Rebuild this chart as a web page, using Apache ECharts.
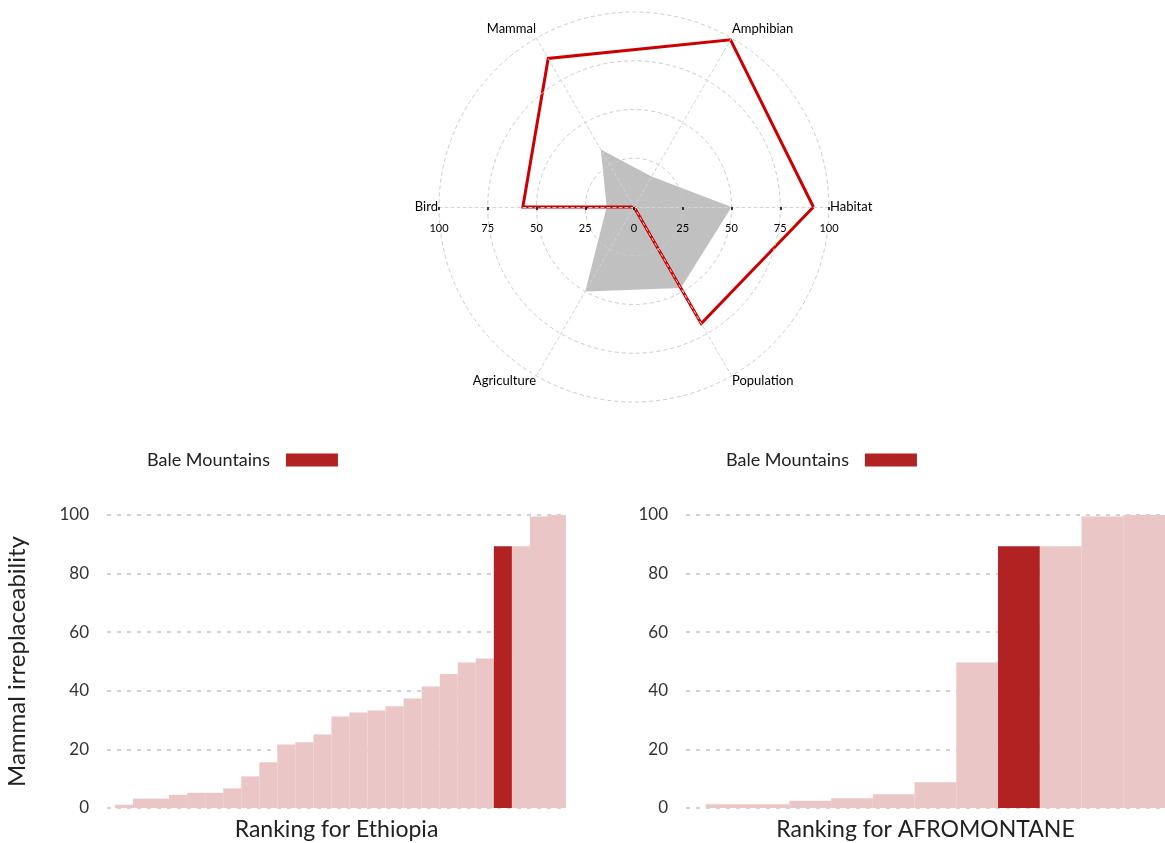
<!DOCTYPE html>
<html>
<head>
<meta charset="utf-8">
<script src="https://cdn.jsdelivr.net/npm/echarts@6/dist/echarts.min.js"></script>
<style>
html,body{margin:0;padding:0;background:#fff;}
#chart{width:1165px;height:843px;}
</style>
</head>
<body>
<div id="chart"></div>
<script>
// ---------- data ----------
const radarIndicators = ['Habitat', 'Amphibian', 'Mammal', 'Bird', 'Agriculture', 'Population'];
const radarMax = 100;
const baleProfile = [92, 99, 88, 57, 0, 69];
const averageProfile = [50, 18, 34, 14, 50, 48];
const radarTickLabels = ['100', '75', '50', '25', '0', '25', '50', '75', '100'];

const legendName = 'Bale Mountains';
const yAxisName = 'Mammal irreplaceability';
const ethiopiaTitle = 'Ranking for Ethiopia';
const ethiopiaValues = [1.1, 3.2, 3.2, 4.5, 5.2, 5.2, 6.7, 10.8, 15.6, 21.7, 22.4, 25.1, 31.2, 32.6, 33.3, 34.7, 37.4, 41.5, 45.7, 49.7, 51.0, 89.3, 89.3, 99.5, 100];
const ethiopiaBaleIndex = 21;
const afroTitle = 'Ranking for AFROMONTANE';
const afroValues = [1.25, 1.25, 2.5, 3.3, 4.7, 8.75, 49.7, 89.3, 89.3, 99.5, 100];
const afroBaleIndex = 7;
const yMin = 0, yMax = 100, yStep = 20;

// ---------- styles ----------
const FONT = 'Lato, "DejaVu Sans", sans-serif';
const RED = '#cc0000';
const BAR_RED = '#b22222';
const PINK = '#eac6c6';
const GREY = '#c0c0c0';
const gridDash = { color: '#c4c4c4', type: [4, 6], width: 1.5 };

function others(values, idx) {
  return values.map((v, i) => [i, v]).filter(d => d[0] !== idx);
}
function bale(values, idx) {
  return [[idx, values[idx]]];
}
function radarNameFormatter(name) {
  const idx = radarIndicators.indexOf(name);
  const s = Math.sin(idx * 2 * Math.PI / radarIndicators.length);
  if (s > 0.1) return '{up|' + name + '}';
  if (s < -0.1) return '{down|' + name + '}';
  return name;
}

const chart = echarts.init(document.getElementById('chart'), null, { renderer: 'canvas' });

const legendBase = {
  data: [legendName], top: 451, align: 'right', padding: 0,
  icon: 'rect', itemWidth: 52, itemHeight: 13,
  selectedMode: false,
  textStyle: { fontSize: 18, color: '#222', fontFamily: FONT, padding: [0, 11, 0, 0] }
};

const option = {
  backgroundColor: '#fff',
  animation: false,
  textStyle: { fontFamily: FONT },
  radar: {
    z: 3,
    center: [634, 207],
    radius: 195,
    startAngle: 0,
    shape: 'circle',
    splitNumber: 4,
    indicator: radarIndicators.map(n => ({ name: n, min: 0, max: radarMax })),
    axisName: {
      color: '#000', fontSize: 13, fontFamily: FONT,
      formatter: radarNameFormatter,
      rich: {
        up: { color: '#000', fontSize: 13, fontFamily: FONT, padding: [0, 0, 17, 0] },
        down: { color: '#000', fontSize: 13, fontFamily: FONT, padding: [9, 0, 0, 0] }
      }
    },
    nameGap: 1,
    axisLine: { lineStyle: { color: '#d4d4d4', type: [3, 3], width: 1 } },
    splitLine: { lineStyle: { color: '#cccccc', type: [4, 3], width: 1 } },
    splitArea: { show: false },
    axisTick: { show: false },
    axisLabel: { show: false }
  },
  legend: [
    Object.assign({}, legendBase, { left: 147 }),
    Object.assign({}, legendBase, { left: 726 })
  ],
  grid: [
    { left: 439, width: 390, top: 206, height: 1, containLabel: false },
    { left: 107, right: 599, top: 515, bottom: 35, containLabel: false },
    { left: 686, right: -3, top: 515, bottom: 35, containLabel: false }
  ],
  xAxis: [
    {
      gridIndex: 0, type: 'category', data: radarTickLabels, boundaryGap: false, z: 10,
      axisLine: { show: false }, splitLine: { show: false },
      axisTick: { show: true, length: 3, interval: 0, lineStyle: { color: '#000', width: 1.5 } },
      axisLabel: { interval: 0, fontSize: 11, color: '#000', margin: 16, fontFamily: FONT }
    },
    {
      gridIndex: 1, type: 'value', min: -0.94, max: ethiopiaValues.length - 0.5,
      axisLine: { show: false }, axisTick: { show: false }, axisLabel: { show: false }, splitLine: { show: false },
      name: ethiopiaTitle, nameLocation: 'middle', nameGap: 10,
      nameTextStyle: { fontSize: 23, color: '#222', fontFamily: FONT }
    },
    {
      gridIndex: 2, type: 'value', min: -0.976, max: afroValues.length - 0.5,
      axisLine: { show: false }, axisTick: { show: false }, axisLabel: { show: false }, splitLine: { show: false },
      name: afroTitle, nameLocation: 'middle', nameGap: 10,
      nameTextStyle: { fontSize: 23, color: '#222', fontFamily: FONT }
    }
  ],
  yAxis: [
    { gridIndex: 0, type: 'value', show: false, min: 0, max: 1 },
    {
      gridIndex: 1, type: 'value', min: yMin, max: yMax, interval: yStep,
      axisLine: { show: false }, axisTick: { show: false },
      axisLabel: { fontSize: 17, color: '#333', margin: 18, fontFamily: FONT },
      splitLine: { show: true, lineStyle: gridDash },
      name: yAxisName, nameLocation: 'middle', nameGap: 78, nameRotate: 90,
      nameTextStyle: { fontSize: 24, color: '#222', fontFamily: FONT }
    },
    {
      gridIndex: 2, type: 'value', min: yMin, max: yMax, interval: yStep,
      axisLine: { show: false }, axisTick: { show: false },
      axisLabel: { fontSize: 17, color: '#333', margin: 18, fontFamily: FONT },
      splitLine: { show: true, lineStyle: gridDash }
    }
  ],
  series: [
    {
      type: 'radar', symbol: 'none', silent: true, z: 1,
      data: [
        { name: 'Average', value: averageProfile,
          lineStyle: { width: 0, color: GREY, opacity: 0 },
          areaStyle: { color: GREY, opacity: 1 } }
      ]
    },
    {
      type: 'radar', symbol: 'none', silent: true, z: 2,
      data: [
        { name: legendName + ' profile', value: baleProfile,
          lineStyle: { width: 3, color: RED, join: 'miter' },
          areaStyle: { opacity: 0 } }
      ]
    },
    {
      name: 'Ethiopia sites', type: 'bar', xAxisIndex: 1, yAxisIndex: 1,
      data: others(ethiopiaValues, ethiopiaBaleIndex),
      itemStyle: { color: PINK }, barGap: '-100%', barCategoryGap: '0%'
    },
    {
      name: legendName, type: 'bar', xAxisIndex: 1, yAxisIndex: 1,
      data: bale(ethiopiaValues, ethiopiaBaleIndex),
      itemStyle: { color: BAR_RED }, barGap: '-100%', barCategoryGap: '0%'
    },
    {
      name: 'Afromontane sites', type: 'bar', xAxisIndex: 2, yAxisIndex: 2,
      data: others(afroValues, afroBaleIndex),
      itemStyle: { color: PINK }, barGap: '-100%', barCategoryGap: '0%'
    },
    {
      name: legendName, type: 'bar', xAxisIndex: 2, yAxisIndex: 2,
      data: bale(afroValues, afroBaleIndex),
      itemStyle: { color: BAR_RED }, barGap: '-100%', barCategoryGap: '0%'
    }
  ]
};
chart.setOption(option);
</script>
</body>
</html>
